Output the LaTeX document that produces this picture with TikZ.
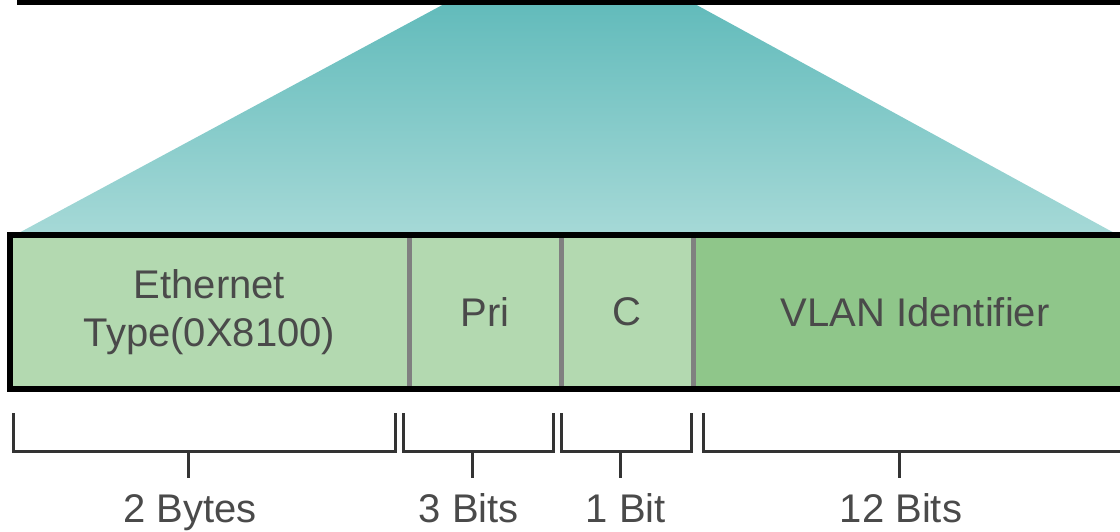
\documentclass[tikz,border=0pt]{standalone}
\usepackage{fontspec}
\setmainfont{Liberation Sans}
\usetikzlibrary{positioning}
\definecolor{tealtop}{HTML}{62BBBB}
\definecolor{tealbottom}{HTML}{A6D9D7}
\definecolor{fieldlight}{HTML}{B3D9B0}
\definecolor{fielddark}{HTML}{8FC68A}
\definecolor{divgray}{HTML}{808080}
\definecolor{labelgray}{HTML}{4A4A4A}
\definecolor{bracegray}{HTML}{333333}
\tikzset{
  field/.style={fill=fieldlight, minimum height=77pt, inner sep=0pt, outer sep=0pt,
    align=center, text=labelgray, font=\fontsize{20}{24}\selectfont},
  divider/.style={draw=divgray, line width=2.5pt},
  frame/.style={draw=black, line width=3pt},
  brace/.style={draw=bracegray, line width=1.5pt},
  size/.style={text=labelgray, anchor=base, inner sep=0pt, font=\fontsize{20}{24}\selectfont}
}
\begin{document}
\begin{tikzpicture}[x=0.5pt,y=-0.5pt]
    \useasboundingbox (0,0) rectangle (1120,531);
    % zoom wedge from the frame above
    \shade[top color=tealtop, bottom color=tealbottom] (446,3) -- (693,3) -- (1118,235) -- (15,235) -- cycle;
    \draw[frame] (17,1.5) -- (1140,1.5);
    % tag fields
    \node[field, minimum width=199.5pt] (eth) at (209.5,312) {Ethernet\\Type(0X8100)};
    \node[field, minimum width=76pt, right=0pt of eth] (pri) {Pri};
    \node[field, minimum width=66pt, right=0pt of pri] (cfi) {C};
    \node[field, minimum width=222pt, fill=fielddark, right=0pt of cfi] (vid) {VLAN Identifier};
    \draw[divider] (eth.north east) -- (eth.south east);
    \draw[divider] (pri.north east) -- (pri.south east);
    \draw[divider] (cfi.north east) -- (cfi.south east);
    \draw[frame] (eth.north west) rectangle (vid.south east);
    % sizes
    \draw[brace] (13,413) |- (395,451) -- (395,413);
    \draw[brace] (188,451) -- (188,478);
    \node[size] (ethsize) at (190,522) {2 Bytes};
    \draw[brace] (403,413) |- (553,451) -- (553,413);
    \draw[brace] (472,451) -- (472,478);
    \node[size] (prisize) at (469,522) {3 Bits};
    \draw[brace] (561,413) |- (691,451) -- (691,413);
    \draw[brace] (620,451) -- (620,478);
    \node[size] (cfisize) at (626,522) {1 Bit};
    \draw[brace] (703,413) |- (1140,451) -- (1140,413);
    \draw[brace] (899,451) -- (899,478);
    \node[size] (vidsize) at (901,522) {12 Bits};
\end{tikzpicture}
\end{document}
